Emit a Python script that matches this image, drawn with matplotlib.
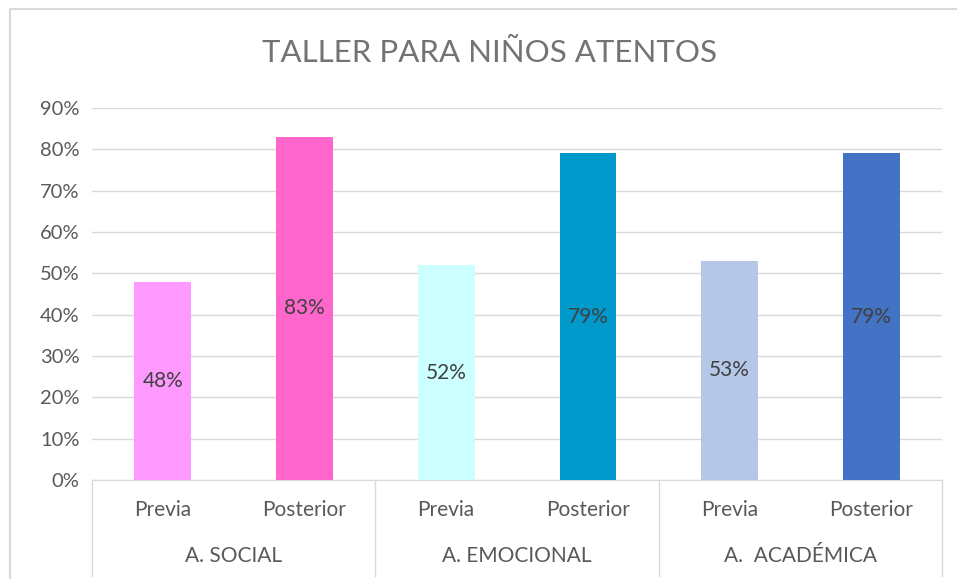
import matplotlib.pyplot as plt
from matplotlib.lines import Line2D

plt.rcParams['font.family'] = ['Lato', 'DejaVu Sans']

# data
groups = ['A. SOCIAL', 'A. EMOCIONAL', 'A.  ACADÉMICA']
stages = ['Previa', 'Posterior']
values = [0.48, 0.83, 0.52, 0.79, 0.53, 0.79]
colors = ['#FF99FF', '#FF66CC', '#CCFFFF', '#0099CC', '#B4C7E7', '#4472C4']
yticks = [0, 0.1, 0.2, 0.3, 0.4, 0.5, 0.6, 0.7, 0.8, 0.9]

W, H = 957, 579
fig = plt.figure(figsize=(W / 100, H / 100), dpi=100)

# chart frame (left and top edges visible)
fig.add_artist(Line2D([10 / W, 10 / W, 1], [0, (H - 9) / H, (H - 9) / H],
                      transform=fig.transFigure, color='#D9D9D9', linewidth=1.5))

left, right, y0, y90 = 92, 942, 480, 108
ax = fig.add_axes([left / W, (H - y0) / H, (right - left) / W, (y0 - y90) / H])

x = list(range(len(values)))
bars = ax.bar(x, values, width=0.4, color=colors, zorder=3)
for b, v in zip(bars, values):
    ax.text(b.get_x() + b.get_width() / 2, v / 2, f'{round(v * 100)}%',
            ha='center', va='center', fontsize=15, color='#404040', zorder=4)

ax.set_xlim(-0.5, len(values) - 0.5)
ax.set_ylim(0, 0.9)
ax.set_yticks(yticks)
ax.set_yticklabels([f'{round(t * 100)}%' for t in yticks])
ax.yaxis.grid(True, color='#D9D9D9', linewidth=1, zorder=0)
ax.tick_params(axis='y', length=0, labelsize=14.5, labelcolor='#595959', pad=9)
ax.set_xticks([])
for s in ['top', 'right', 'left']:
    ax.spines[s].set_visible(False)
ax.spines['bottom'].set_color('#D9D9D9')

# two-level category axis
trans = ax.get_xaxis_transform()
for i, lab in enumerate(stages * len(groups)):
    ax.text(i, -(510 - y0) / (y0 - y90), lab, transform=trans, ha='center', va='center',
            fontsize=15, color='#595959')
for g, name in enumerate(groups):
    ax.text(2 * g + 0.5, -(556 - y0) / (y0 - y90), name, transform=trans, ha='center',
            va='center', fontsize=15, color='#595959')
for k in range(len(groups) + 1):
    xs = 2 * k - 0.5
    ax.add_line(Line2D([xs, xs], [0, -(576 - y0) / (y0 - y90)], transform=trans,
                       color='#D9D9D9', linewidth=1, clip_on=False))

fig.text(490 / W, (H - 53) / H, 'TALLER PARA NIÑOS ATENTOS', ha='center', va='center',
         fontsize=22.5, color='#737373')

fig.savefig('out.png', dpi=100)
